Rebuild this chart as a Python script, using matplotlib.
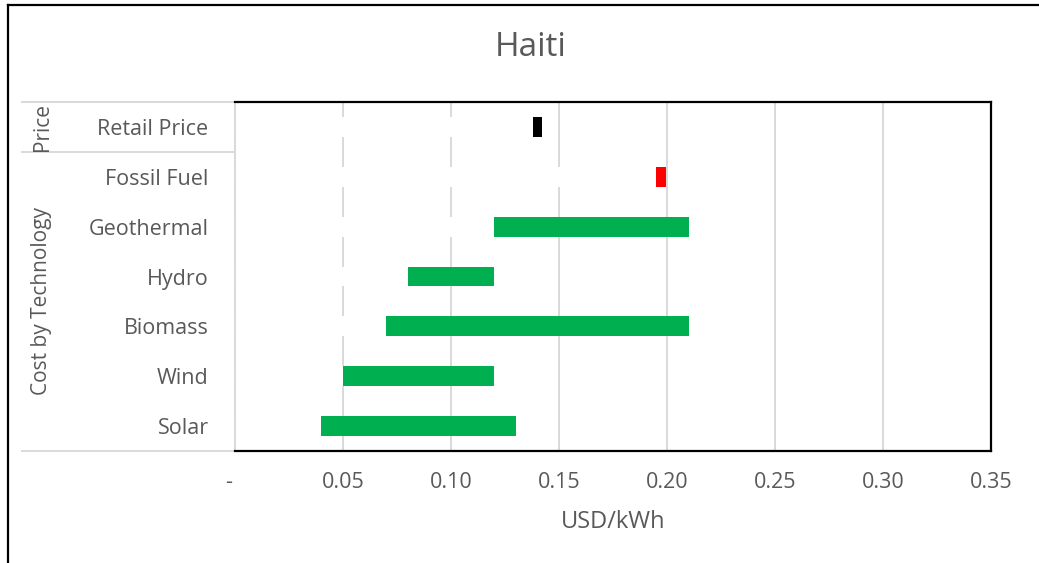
import numpy as np
import matplotlib
matplotlib.use("Agg")
import matplotlib.pyplot as plt
from matplotlib.lines import Line2D

plt.rcParams["font.family"] = ["Open Sans", "DejaVu Sans"]

# cost ranges in USD/kWh, listed bottom to top
techs = ["Solar", "Wind", "Biomass", "Hydro", "Geothermal", "Fossil Fuel", "Retail Price"]
low = [0.04, 0.05, 0.07, 0.08, 0.12, 0.195, 0.138]
high = [0.13, 0.12, 0.21, 0.12, 0.21, 0.1995, 0.142]
bar_colors = ["#00B050"] * 5 + ["#FF0000", "#000000"]

xticks = [0, 0.05, 0.10, 0.15, 0.20, 0.25, 0.30, 0.35]
xticklabels = ["-  ", "0.05", "0.10", "0.15", "0.20", "0.25", "0.30", "0.35"]

GREY = "#595959"
LINE = "#D9D9D9"

fig = plt.figure(figsize=(10.39, 5.63), dpi=100)
ax = fig.add_axes([235 / 1039, 1 - 451 / 563, 756 / 1039, 349 / 563])

y = np.arange(len(techs))
width = np.array(high) - np.array(low)
# invisible base segment (stacked bar trick) hides the gridlines up to the start value
ax.barh(y, low, height=0.4, color="white", zorder=2)
ax.barh(y, width, left=low, height=0.4, color=bar_colors, zorder=3)

ax.set_xlim(0, 0.35)
ax.set_ylim(-0.5, len(techs) - 0.5)
ax.set_xticks(xticks)
ax.set_xticklabels(xticklabels)
ax.set_yticks(y)
ax.set_yticklabels(techs)
ax.tick_params(axis="both", length=0, labelsize=15.5, labelcolor=GREY)
ax.tick_params(axis="y", pad=19)
ax.tick_params(axis="x", pad=15)
ax.xaxis.grid(True, color=LINE, lw=1.4)
ax.set_axisbelow(True)

for s in ["top", "right", "bottom"]:
    ax.spines[s].set_color("black")
    ax.spines[s].set_linewidth(1.6)
ax.spines["left"].set_color(LINE)
ax.spines["left"].set_linewidth(1.4)

ax.set_xlabel("USD/kWh", fontsize=17, color=GREY, labelpad=12)
fig.text(531 / 1039, 1 - 48 / 563, "Haiti", fontsize=24, color=GREY,
         ha="center", va="center")

# two-level category axis: group separators and group names
x0 = (22 - 235) / 756
for yy in [-0.5, 5.5, 6.5]:
    ax.add_line(Line2D([x0, 0], [yy, yy], color=LINE, lw=1.4,
                       transform=ax.get_yaxis_transform(), clip_on=False))
ax.text(42 / 1039, 1 - 127 / 563, "Price", transform=fig.transFigure, rotation=90,
        fontsize=15, color=GREY, ha="center", va="center")
ax.text(42 / 1039, 1 - 301 / 563, "Cost by Technology", transform=fig.transFigure,
        rotation=90, fontsize=15, color=GREY, ha="center", va="center")

# chart border
fig.add_artist(Line2D([7.5 / 1039, 7.5 / 1039], [0, 1 - 5 / 563], color="black", lw=1.6))
fig.add_artist(Line2D([7.5 / 1039, 1], [1 - 5 / 563, 1 - 5 / 563], color="black", lw=1.6))

fig.savefig("out.png", dpi=100)
